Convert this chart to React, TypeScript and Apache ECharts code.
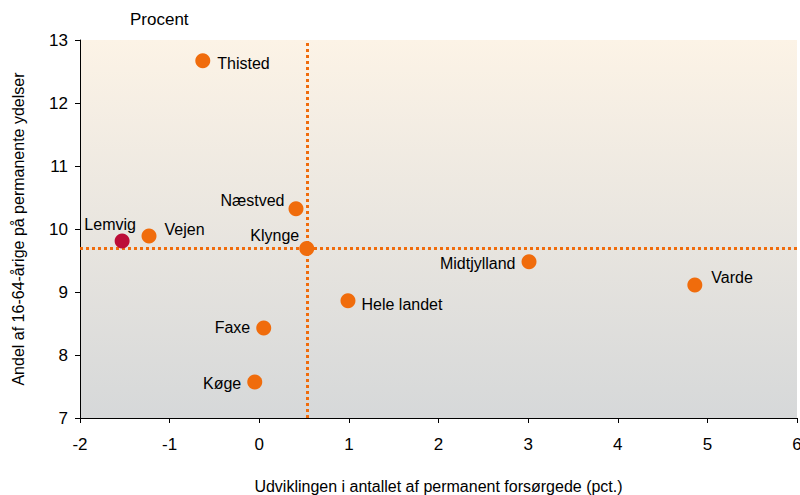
import React, { useEffect, useRef } from "react";
import * as echarts from "echarts";

const names = ["Thisted", "Næstved", "Lemvig", "Vejen", "Klynge", "Midtjylland", "Varde", "Hele landet", "Faxe", "Køge"];
const xValues = [-0.63, 0.41, -1.53, -1.23, 0.53, 3.01, 4.86, 0.99, 0.05, -0.05];
const yValues = [12.67, 10.32, 9.81, 9.89, 9.69, 9.48, 9.11, 8.86, 8.43, 7.57];
const refX = 0.53;
const refY = 9.7;
const xTicks = [-2, -1, 0, 1, 2, 3, 4, 5, 6];
const yTicks = [7, 8, 9, 10, 11, 12, 13];

const ORANGE = "#f06c0c";
const CRIMSON = "#bc0d37";

const labelStyles: Record<string, any> = {
  Thisted: { position: "right", distance: 7, offset: [0, 3] },
  Næstved: { position: "left", distance: 4, offset: [0, -8] },
  Lemvig: { position: "top", distance: 4, offset: [-12, 3] },
  Vejen: { position: "right", distance: 8, offset: [0, -6] },
  Klynge: { position: "left", distance: 2, offset: [2, -13] },
  Midtjylland: { position: "left", distance: 6, offset: [0, 2] },
  Varde: { position: "right", distance: 9, offset: [0, -8] },
  "Hele landet": { position: "right", distance: 6, offset: [0, 4] },
  Faxe: { position: "left", distance: 6, offset: [0, 0] },
  Køge: { position: "left", distance: 6, offset: [0, 1] },
};

export default function App() {
  const ref = useRef<HTMLDivElement>(null);
  useEffect(() => {
    if (!ref.current) return;
    const chart = echarts.init(ref.current, undefined, { renderer: "svg" });
    const font = "'Liberation Sans', Arial, sans-serif";
    const data = names.map((n, i) => ({
      name: n,
      value: [xValues[i], yValues[i]],
      itemStyle: { color: n === "Lemvig" ? CRIMSON : ORANGE, opacity: 1 },
      label: {
        show: true,
        formatter: n,
        color: "#000",
        fontSize: 16,
        fontFamily: font,
        ...labelStyles[n],
      },
    }));
    chart.setOption({
      animation: false,
      backgroundColor: "#ffffff",
      textStyle: { fontFamily: font },
      grid: {
        left: 80,
        right: 3,
        top: 40,
        bottom: 77,
        outerBoundsMode: "none",
        containLabel: false,
        show: true,
        borderWidth: 0,
        backgroundColor: new echarts.graphic.LinearGradient(0, 0, 0, 1, [
          { offset: 0, color: "#fcf3e6" },
          { offset: 1, color: "#d6d8d9" },
        ]),
      },
      graphic: [
        {
          type: "text",
          left: 130,
          top: 11,
          style: { text: "Procent", fontSize: 17, fontFamily: font, fill: "#000" },
        },
      ],
      xAxis: {
        type: "value",
        min: xTicks[0],
        max: xTicks[xTicks.length - 1],
        interval: 1,
        name: "Udviklingen i antallet af permanent forsørgede (pct.)",
        nameLocation: "middle",
        nameGap: 60,
        nameTextStyle: { fontSize: 16, color: "#000", fontFamily: font },
        axisLine: { show: true, onZero: false, lineStyle: { color: "#000", width: 1 } },
        axisTick: { show: true, inside: false, length: 5, lineStyle: { color: "#000" } },
        axisLabel: { fontSize: 17, color: "#000", margin: 18, fontFamily: font },
        splitLine: { show: false },
      },
      yAxis: {
        type: "value",
        min: yTicks[0],
        max: yTicks[yTicks.length - 1],
        interval: 1,
        name: "Andel af 16-64-årige på permanente ydelser",
        nameLocation: "middle",
        nameGap: 54,
        nameTextStyle: { fontSize: 16, color: "#000", fontFamily: font },
        axisLine: { show: true, onZero: false, lineStyle: { color: "#000", width: 1 } },
        axisTick: { show: true, inside: false, length: 5, lineStyle: { color: "#000" } },
        axisLabel: { fontSize: 17, color: "#000", margin: 12, fontFamily: font },
        splitLine: { show: false },
      },
      series: [
        {
          type: "scatter",
          symbolSize: 15,
          data,
          z: 3,
          markLine: {
            silent: true,
            symbol: "none",
            label: { show: false },
            lineStyle: { color: ORANGE, type: "dotted", width: 3, opacity: 1 },
            data: [{ xAxis: refX }, { yAxis: refY }],
            z: 2,
          },
        },
      ],
    });
    return () => chart.dispose();
  }, []);
  return <div ref={ref} style={{ width: 800, height: 495, position: "absolute", left: 0, top: 0 }} />;
}
